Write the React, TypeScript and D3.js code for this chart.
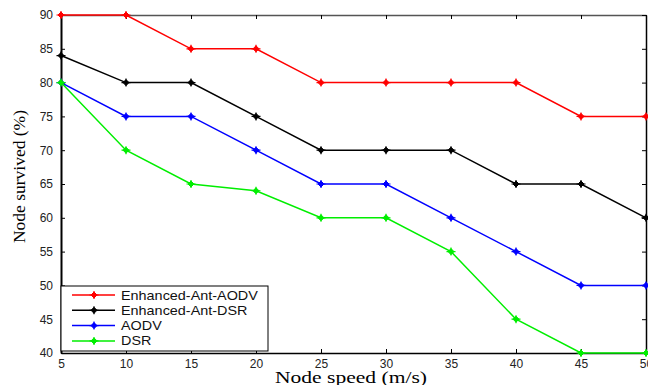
import React, { useEffect, useRef } from 'react';
import * as d3 from 'd3';

// Node speed (m/s)
const speeds = [5, 10, 15, 20, 25, 30, 35, 40, 45, 50];
// Node survived (%)
const antAodv = [90, 90, 85, 85, 80, 80, 80, 80, 75, 75];
const antDsr = [84, 80, 80, 75, 70, 70, 70, 65, 65, 60];
const aodv = [80, 75, 75, 70, 65, 65, 60, 55, 50, 50];
const dsr = [80, 70, 65, 64, 60, 60, 55, 45, 40, 40];

const seriesNames = ['Enhanced-Ant-AODV', 'Enhanced-Ant-DSR', 'AODV', 'DSR'];
const seriesColors = ['#ff0000', '#000000', '#0000ff', '#00ee00'];
const yTicks = [40, 45, 50, 55, 60, 65, 70, 75, 80, 85, 90];

function App() {
  const svgRef = useRef<SVGSVGElement>(null);

  useEffect(() => {
    const width = 648;
    const height = 385;
    const margin = { top: 15, right: 2, bottom: 32, left: 61 };
    const innerWidth = width - margin.left - margin.right;
    const innerHeight = height - margin.top - margin.bottom;

    const svg = d3.select(svgRef.current)
      .attr('width', width)
      .attr('height', height);
    svg.selectAll('*').remove();

    const g = svg.append('g')
      .attr('transform', `translate(${margin.left},${margin.top})`);

    const x = d3.scaleLinear().domain([5, 50]).range([0, innerWidth]);
    const y = d3.scaleLinear().domain([40, 90]).range([innerHeight, 0]);

    const font = 'Arial, "Liberation Sans", sans-serif';
    const serif = '"Liberation Serif", "Times New Roman", serif';

    // axes with inward ticks
    const bottom = g.append('g')
      .attr('transform', `translate(0,${innerHeight})`)
      .call(d3.axisBottom(x).tickValues(speeds).tickSizeInner(-4).tickSizeOuter(0).tickPadding(6));
    bottom.select('.domain').attr('stroke', '#000').attr('stroke-width', 1.5);
    bottom.selectAll('text').attr('font-size', '12px').attr('font-family', font).attr('fill', '#222');

    const left = g.append('g')
      .call(d3.axisLeft(y).tickValues(yTicks).tickSizeInner(-4).tickSizeOuter(0).tickPadding(8));
    left.select('.domain').attr('stroke', '#000').attr('stroke-width', 2);
    left.selectAll('text').attr('font-size', '12px').attr('font-family', font).attr('fill', '#222');

    const top = g.append('g')
      .call(d3.axisTop(x).tickValues(speeds).tickSizeInner(-4).tickSizeOuter(0).tickFormat(() => ''));
    top.select('.domain').attr('stroke', '#555').attr('stroke-width', 1.5);

    const right = g.append('g')
      .attr('transform', `translate(${innerWidth},0)`)
      .call(d3.axisRight(y).tickValues(yTicks).tickSizeInner(-4).tickSizeOuter(0).tickFormat(() => ''));
    right.select('.domain').attr('stroke', '#000').attr('stroke-width', 1.5);

    // lines
    const allSeries = [antAodv, antDsr, aodv, dsr];
    const line = d3.line<number>()
      .x((d, i) => x(speeds[i]))
      .y(d => y(d));

    const drawMarker = (sel: any, color: string, cx: number, cy: number, r: number) => {
      sel.append('path')
        .attr('d', `M${cx - r},${cy}L${cx},${cy - r}L${cx + r},${cy}L${cx},${cy + r}Z`)
        .attr('fill', color)
        .attr('stroke', color)
        .attr('stroke-width', 1);
      sel.append('path')
        .attr('d', `M${cx - r - 1.5},${cy}H${cx + r + 1.5}M${cx},${cy - r - 1}V${cy + r + 1}`)
        .attr('stroke', color)
        .attr('stroke-width', 1.2);
    };

    allSeries.forEach((vals, si) => {
      const color = seriesColors[si];
      g.append('path')
        .datum(vals)
        .attr('fill', 'none')
        .attr('stroke', color)
        .attr('stroke-width', 1.5)
        .attr('d', line);
      const mg = g.append('g');
      vals.forEach((v, i) => drawMarker(mg, color, x(speeds[i]), y(v), 3));
    });

    // legend
    const lg = svg.append('g').attr('transform', 'translate(61,286)');
    lg.append('rect')
      .attr('width', 207)
      .attr('height', 65)
      .attr('fill', '#fff')
      .attr('stroke', '#000')
      .attr('stroke-width', 1);
    seriesNames.forEach((name, i) => {
      const ly = 9 + i * 15.3;
      lg.append('line')
        .attr('x1', 11).attr('x2', 54)
        .attr('y1', ly).attr('y2', ly)
        .attr('stroke', seriesColors[i])
        .attr('stroke-width', 1.5);
      drawMarker(lg, seriesColors[i], 33, ly, 3);
      lg.append('text')
        .attr('transform', `translate(60,${ly + 4.5}) scale(1.2,1)`)
        .attr('font-size', '12px')
        .attr('font-family', font)
        .attr('fill', '#111')
        .text(name);
    });

    // axis titles
    svg.append('text')
      .attr('x', 275)
      .attr('y', 383)
      .attr('textLength', 152)
      .attr('lengthAdjust', 'spacingAndGlyphs')
      .attr('font-size', '16px')
      .attr('font-family', serif)
      .attr('fill', '#000')
      .text('Node speed (m/s)');

    svg.append('text')
      .attr('transform', `translate(25,243) rotate(-90)`)
      .attr('textLength', 133)
      .attr('lengthAdjust', 'spacingAndGlyphs')
      .attr('font-size', '16px')
      .attr('font-family', serif)
      .attr('fill', '#000')
      .text('Node survived (%)');
  }, []);

  return (
    <svg ref={svgRef} style={{ position: 'absolute', left: 0, top: 0, background: '#fff' }}></svg>
  );
}

export default App;
